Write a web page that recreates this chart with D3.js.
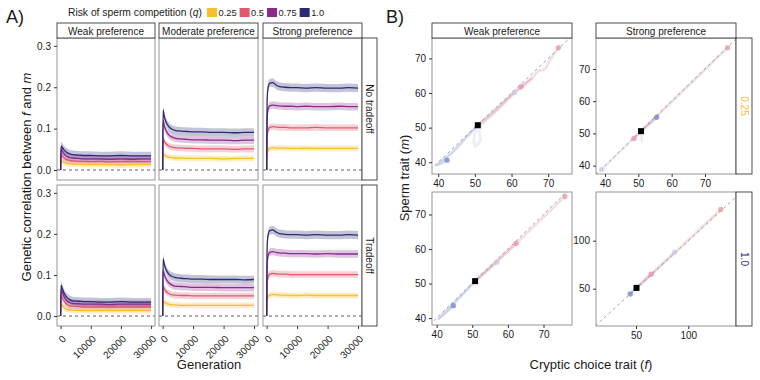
<!DOCTYPE html>
<html>
<head>
<meta charset="utf-8">
<script src="https://cdn.jsdelivr.net/npm/d3@7"></script>
<style>
  body { margin: 0; background: #fff; }
  svg { display: block; font-family: "Liberation Sans", Arial, Helvetica, sans-serif; }
</style>
</head>
<body>
<div id="chart"></div>
<script>
// ---------------------------------------------------------------------------
// Data
// ---------------------------------------------------------------------------

const qLevels     = ['0.25', '0.5', '0.75', '1.0'];
const preferences = ['Weak preference', 'Moderate preference', 'Strong preference'];
const tradeoffs   = ['No tradeoff', 'Tradeoff'];

const generations = [0, 150, 500, 1000, 2000, 3000, 4000, 6000, 8000, 10000, 13000, 16000, 20000, 24000, 27000, 30000];
const genTicks    = [0, 10000, 20000, 30000];
const corrTicks   = [0, 0.1, 0.2, 0.3];
const bandHalf    = [0.007, 0.008, 0.009, 0.010];   // ribbon half width per q

// genetic correlation, one row per q (0.25, 0.5, 0.75, 1.0)
const noTradeWeak = [
  [0, 0.025, 0.022, 0.019, 0.016, 0.015, 0.014, 0.014, 0.013, 0.013, 0.013, 0.013, 0.012, 0.013, 0.013, 0.013],
  [0, 0.040, 0.035, 0.030, 0.025, 0.023, 0.022, 0.021, 0.021, 0.020, 0.021, 0.020, 0.020, 0.021, 0.020, 0.020],
  [0, 0.052, 0.047, 0.040, 0.033, 0.030, 0.029, 0.028, 0.027, 0.027, 0.027, 0.026, 0.027, 0.026, 0.027, 0.027],
  [0, 0.058, 0.055, 0.050, 0.043, 0.039, 0.037, 0.036, 0.035, 0.035, 0.034, 0.034, 0.035, 0.034, 0.034, 0.034]
];
const noTradeModerate = [
  [0, 0.039, 0.037, 0.034, 0.031, 0.030, 0.029, 0.029, 0.028, 0.028, 0.028, 0.028, 0.027, 0.028, 0.028, 0.028],
  [0, 0.076, 0.070, 0.064, 0.058, 0.055, 0.054, 0.053, 0.052, 0.052, 0.051, 0.051, 0.051, 0.050, 0.051, 0.051],
  [0, 0.120, 0.108, 0.097, 0.085, 0.080, 0.077, 0.075, 0.074, 0.073, 0.073, 0.072, 0.072, 0.071, 0.072, 0.072],
  [0, 0.145, 0.130, 0.118, 0.105, 0.099, 0.096, 0.094, 0.093, 0.092, 0.092, 0.091, 0.091, 0.090, 0.091, 0.091]
];
const noTradeStrong = [
  [0, 0.040, 0.049, 0.052, 0.054, 0.053, 0.053, 0.053, 0.052, 0.052, 0.053, 0.052, 0.052, 0.052, 0.052, 0.052],
  [0, 0.080, 0.097, 0.103, 0.105, 0.104, 0.103, 0.103, 0.102, 0.102, 0.102, 0.103, 0.102, 0.102, 0.102, 0.102],
  [0, 0.125, 0.148, 0.155, 0.157, 0.156, 0.155, 0.154, 0.154, 0.153, 0.154, 0.153, 0.153, 0.154, 0.153, 0.153],
  [0, 0.170, 0.200, 0.210, 0.211, 0.206, 0.202, 0.200, 0.199, 0.199, 0.198, 0.199, 0.198, 0.198, 0.199, 0.198]
];
const tradeWeak = [
  [0, 0.030, 0.027, 0.022, 0.017, 0.015, 0.014, 0.014, 0.013, 0.013, 0.013, 0.013, 0.013, 0.013, 0.013, 0.013],
  [0, 0.050, 0.045, 0.038, 0.029, 0.025, 0.024, 0.023, 0.022, 0.022, 0.022, 0.022, 0.022, 0.022, 0.022, 0.022],
  [0, 0.065, 0.058, 0.049, 0.038, 0.033, 0.031, 0.030, 0.029, 0.029, 0.029, 0.028, 0.029, 0.029, 0.029, 0.029],
  [0, 0.075, 0.068, 0.058, 0.046, 0.040, 0.037, 0.036, 0.035, 0.035, 0.034, 0.034, 0.035, 0.034, 0.034, 0.034]
];
const tradeModerate = [
  [0, 0.036, 0.034, 0.031, 0.029, 0.027, 0.027, 0.026, 0.026, 0.026, 0.026, 0.026, 0.026, 0.026, 0.026, 0.026],
  [0, 0.073, 0.067, 0.061, 0.055, 0.052, 0.051, 0.050, 0.050, 0.049, 0.049, 0.049, 0.049, 0.049, 0.049, 0.049],
  [0, 0.112, 0.102, 0.092, 0.081, 0.076, 0.073, 0.072, 0.071, 0.070, 0.070, 0.070, 0.069, 0.069, 0.069, 0.069],
  [0, 0.140, 0.127, 0.115, 0.102, 0.097, 0.094, 0.092, 0.091, 0.090, 0.090, 0.089, 0.089, 0.089, 0.088, 0.089]
];
const tradeStrong = [
  [0, 0.040, 0.048, 0.051, 0.053, 0.052, 0.051, 0.051, 0.050, 0.050, 0.051, 0.050, 0.050, 0.050, 0.050, 0.050],
  [0, 0.080, 0.096, 0.102, 0.104, 0.103, 0.102, 0.102, 0.101, 0.101, 0.101, 0.101, 0.101, 0.101, 0.101, 0.101],
  [0, 0.125, 0.148, 0.155, 0.157, 0.155, 0.154, 0.153, 0.152, 0.152, 0.152, 0.151, 0.152, 0.151, 0.151, 0.151],
  [0, 0.170, 0.198, 0.208, 0.210, 0.205, 0.201, 0.199, 0.198, 0.198, 0.197, 0.198, 0.197, 0.197, 0.198, 0.197]
];

// Panel B: trajectories of (f, m), each starts at the black square
const bPrefs   = ['Weak preference', 'Strong preference'];
const bQLevels = ['0.25', '1.0'];
const startPoint   = [50.8, 50.7];
const startPointQ1 = [50.5, 50.8];

const trajWeakQ025 = [
  { run: 'low',  pts: [[50.8, 50.7], [47.4, 46.9], [44, 43], [39.6, 39.1], [42.4, 40.6]] },
  { run: 'pale', pts: [[50.8, 50.7], [49.8, 47], [50.1, 44.5], [51.5, 46.5], [51.2, 49.5], [53.5, 52.5], [57, 56], [60.8, 60.2]] },
  { run: 'mid',  pts: [[50.8, 50.7], [55, 54.2], [60.9, 60.4], [65.5, 64.2], [62.6, 61.8]] },
  { run: 'high', pts: [[50.8, 50.7], [58, 57.5], [65.5, 64.2], [67.5, 66.5], [69, 66.8], [70.5, 69.5], [72.8, 73.1]] }
];
const trajStrongQ025 = [
  { run: 'pale', pts: [[50.8, 50.7], [51.1, 47.5], [50.6, 50], [46, 45.8], [42, 41.8], [39, 38.8]] },
  { run: 'mid',  pts: [[50.8, 50.7], [48.7, 48.4]] },
  { run: 'low',  pts: [[50.8, 50.7], [55.5, 55]] },
  { run: 'high', pts: [[50.8, 50.7], [60, 59.8], [70, 69.8], [76.8, 76.6]] }
];
const trajWeakQ1 = [
  { run: 'low',  pts: [[50.8, 50.7], [46, 45.5], [40.5, 39.7], [44.7, 43.6]] },
  { run: 'pale', pts: [[50.8, 50.7], [56.9, 56.2]] },
  { run: 'mid',  pts: [[50.8, 50.7], [57, 56.5], [62.3, 61.6]] },
  { run: 'high', pts: [[50.8, 50.7], [62.3, 61.6], [70, 69.2], [76, 75.2]] }
];
const trajStrongQ1 = [
  { run: 'low',  pts: [[50.5, 50.8], [44.5, 44.5]] },
  { run: 'mid',  pts: [[50.5, 50.8], [64.5, 65]] },
  { run: 'pale', pts: [[50.5, 50.8], [87, 88]] },
  { run: 'high', pts: [[50.5, 50.8], [90, 90.5], [131, 132.5]] }
];

// ---------------------------------------------------------------------------
// Setup
// ---------------------------------------------------------------------------

const width = 760, height = 380;
const qColors   = ['#f4c02c', '#df5a6c', '#8b2a8d', '#2c2a72'];
const runColors = { low: '#6b80c4', mid: '#e58cb0', pale: '#c6cae6', high: '#d99a9c' };
const textCol = '#1a1a1a', tickCol = '#333', borderCol = '#8a8a8a', stripCol = '#222';

const svg = d3.select('#chart').append('svg')
  .attr('viewBox', [0, 0, width, height])
  .attr('width', width)
  .attr('height', height);

function strip(g, x0, y0, w, h, label, vertical, color) {
  g.append('rect').attr('x', x0).attr('y', y0).attr('width', w).attr('height', h)
    .attr('fill', '#fff').attr('stroke', stripCol).attr('stroke-width', 0.8);
  const t = g.append('text').attr('fill', color || textCol).attr('font-size', 10)
    .attr('text-anchor', 'middle').attr('dominant-baseline', 'central').text(label);
  if (vertical) t.attr('transform', `translate(${x0 + w / 2},${y0 + h / 2}) rotate(90)`);
  else t.attr('x', x0 + w / 2).attr('y', y0 + h / 2 + 0.5);
}

function styleAxis(a) {
  a.select('.domain').remove();
  a.selectAll('line').attr('stroke', tickCol);
  a.selectAll('text').attr('fill', textCol).attr('font-size', 10).attr('font-family', null);
}

// ---------------------------------------------------------------------------
// Panel A: genetic correlation through time
// ---------------------------------------------------------------------------

const gA = svg.append('g').attr('id', 'panel-a');
gA.append('text').attr('x', 6).attr('y', 23).attr('font-size', 18).attr('fill', textCol).text('A)');

// legend
const leg = gA.append('g').attr('id', 'legend');
const legTitle = leg.append('text').attr('x', 68).attr('y', 16).attr('font-size', 10.3).attr('fill', textCol);
legTitle.append('tspan').text('Risk of sperm competition (');
legTitle.append('tspan').attr('font-style', 'italic').text('q');
legTitle.append('tspan').text(')');
let legCursor = 207;
qLevels.forEach((q, i) => {
  leg.append('rect').attr('x', legCursor).attr('y', 8).attr('width', 10).attr('height', 9).attr('fill', qColors[i]);
  const t = leg.append('text').attr('x', legCursor + 11.5).attr('y', 16).attr('font-size', 9.3)
    .attr('fill', textCol).text(q);
  legCursor += 11.5 + t.node().getComputedTextLength() + 3;
});

const colsA = [[57, 155], [159, 258], [263, 362]];
const rowsA = [[38, 180], [185, 326]];
const dataA = [[noTradeWeak, noTradeModerate, noTradeStrong], [tradeWeak, tradeModerate, tradeStrong]];

rowsA.forEach(([y0, y1], r) => {
  colsA.forEach(([x0, x1], c) => {
    const g = gA.append('g');
    const x = d3.scaleLinear().domain([-1200, 31300]).range([x0, x1]);
    const y = d3.scaleLinear().domain([-0.0242, 0.319]).range([y1, y0]);

    g.append('rect').attr('x', x0).attr('y', y0).attr('width', x1 - x0).attr('height', y1 - y0).attr('fill', '#fff');

    g.append('line').attr('x1', x0).attr('x2', x1).attr('y1', y(0)).attr('y2', y(0))
      .attr('stroke', '#333').attr('stroke-width', 0.8).attr('stroke-dasharray', '3,3');

    const series = dataA[r][c];
    series.forEach((vals, i) => {
      const pts = generations.map((gen, k) => ({ gen, v: vals[k] }));
      g.append('path').datum(pts)
        .attr('d', d3.area().curve(d3.curveMonotoneX)
          .x(d => x(d.gen))
          .y0(d => y(d.v === 0 ? 0 : d.v - bandHalf[i]))
          .y1(d => y(d.v === 0 ? 0 : d.v + bandHalf[i])))
        .attr('fill', qColors[i]).attr('fill-opacity', 0.28);
    });
    series.forEach((vals, i) => {
      const pts = generations.map((gen, k) => ({ gen, v: vals[k] }));
      g.append('path').datum(pts)
        .attr('d', d3.line().curve(d3.curveMonotoneX).x(d => x(d.gen)).y(d => y(d.v)))
        .attr('fill', 'none').attr('stroke', qColors[i]).attr('stroke-width', 1.3);
    });

    g.append('rect').attr('x', x0).attr('y', y0).attr('width', x1 - x0).attr('height', y1 - y0)
      .attr('fill', 'none').attr('stroke', borderCol).attr('stroke-width', 0.9);

    if (c === 0) {
      const ax = g.append('g').attr('transform', `translate(${x0},0)`)
        .call(d3.axisLeft(y).tickValues(corrTicks).tickSize(3).tickFormat(d3.format('.1f')));
      styleAxis(ax);
    }
    if (r === 1) {
      const ax = g.append('g').attr('transform', `translate(0,${y1})`)
        .call(d3.axisBottom(x).tickValues(genTicks).tickSize(3).tickFormat(d3.format('d')));
      styleAxis(ax);
      ax.selectAll('text').attr('text-anchor', 'end').attr('dy', null).attr('y', null)
        .attr('dominant-baseline', 'central')
        .attr('transform', 'translate(3,11) rotate(-45)');
    }
    if (r === 0) strip(g, x0, 23, x1 - x0, y0 - 23, preferences[c], false);
    if (c === 2) strip(g, x1, y0, 15, y1 - y0, tradeoffs[r], true);
  });
});

const yTitleA = gA.append('text').attr('transform', 'translate(31,177) rotate(-90)')
  .attr('text-anchor', 'middle').attr('font-size', 13).attr('fill', textCol);
yTitleA.append('tspan').text('Genetic correlation between ');
yTitleA.append('tspan').attr('font-style', 'italic').text('f');
yTitleA.append('tspan').text(' and ');
yTitleA.append('tspan').attr('font-style', 'italic').text('m');

gA.append('text').attr('x', 209).attr('y', 369).attr('text-anchor', 'middle')
  .attr('font-size', 13).attr('fill', textCol).text('Generation');

// ---------------------------------------------------------------------------
// Panel B: cryptic choice vs sperm trait trajectories
// ---------------------------------------------------------------------------

const gB = svg.append('g').attr('id', 'panel-b');
gB.append('text').attr('x', 386).attr('y', 23).attr('font-size', 18).attr('fill', textCol).text('B)');

const panelsB = [
  { col: 0, row: 0, box: [432, 572, 38, 174],  xd: [38.3, 76.5], yd: [36.6, 75.9], xt: [40, 50, 60, 70], yt: [40, 50, 60, 70], tracks: trajWeakQ025,   start: startPoint },
  { col: 1, row: 0, box: [596, 736, 38, 174],  xd: [37.3, 79.3], yd: [37.4, 79.6], xt: [40, 50, 60, 70], yt: [40, 50, 60, 70], tracks: trajStrongQ025, start: startPoint },
  { col: 0, row: 1, box: [432, 572, 192, 325], xd: [38.7, 78.0], yd: [38.0, 76.5], xt: [40, 50, 60, 70], yt: [40, 50, 60, 70], tracks: trajWeakQ1,     start: startPoint },
  { col: 1, row: 1, box: [596, 736, 192, 326], xd: [11.8, 145.6], yd: [11.1, 150.7], xt: [50, 100], yt: [50, 100],           tracks: trajStrongQ1,   start: startPointQ1 }
];

panelsB.forEach(p => {
  const [x0, x1, y0, y1] = p.box;
  const g = gB.append('g');
  const x = d3.scaleLinear().domain(p.xd).range([x0, x1]);
  const y = d3.scaleLinear().domain(p.yd).range([y1, y0]);

  const clipId = `clip-b-${p.row}-${p.col}`;
  g.append('clipPath').attr('id', clipId).append('rect')
    .attr('x', x0).attr('y', y0).attr('width', x1 - x0).attr('height', y1 - y0);
  const inner = g.append('g').attr('clip-path', `url(#${clipId})`);

  const line = d3.line().curve(d3.curveCatmullRom).x(d => x(d[0])).y(d => y(d[1]));
  p.tracks.forEach(t => {
    inner.append('path').attr('d', line(t.pts)).attr('fill', 'none')
      .attr('stroke', runColors[t.run]).attr('stroke-opacity', 0.22).attr('stroke-width', 3.2)
      .attr('stroke-linecap', 'round').attr('stroke-linejoin', 'round');
    inner.append('path').attr('d', line(t.pts)).attr('fill', 'none')
      .attr('stroke', runColors[t.run]).attr('stroke-opacity', 0.4).attr('stroke-width', 0.6);
  });

  const lo = Math.min(p.xd[0], p.yd[0]), hi = Math.max(p.xd[1], p.yd[1]);
  inner.append('line')
    .attr('x1', x(lo)).attr('y1', y(lo)).attr('x2', x(hi)).attr('y2', y(hi))
    .attr('stroke', '#8c8c8c').attr('stroke-width', 0.8).attr('stroke-dasharray', '3,3');

  p.tracks.forEach(t => {
    const end = t.pts[t.pts.length - 1];
    inner.append('circle').attr('cx', x(end[0])).attr('cy', y(end[1])).attr('r', 2.7)
      .attr('fill', runColors[t.run]).attr('fill-opacity', 0.7);
  });
  inner.append('rect').attr('x', x(p.start[0]) - 3).attr('y', y(p.start[1]) - 3)
    .attr('width', 6).attr('height', 6).attr('fill', '#000');

  g.append('rect').attr('x', x0).attr('y', y0).attr('width', x1 - x0).attr('height', y1 - y0)
    .attr('fill', 'none').attr('stroke', borderCol).attr('stroke-width', 0.9);

  styleAxis(g.append('g').attr('transform', `translate(${x0},0)`)
    .call(d3.axisLeft(y).tickValues(p.yt).tickSize(3)));
  styleAxis(g.append('g').attr('transform', `translate(0,${y1})`)
    .call(d3.axisBottom(x).tickValues(p.xt).tickSize(3)));

  if (p.row === 0) strip(g, x0, 23, x1 - x0, y0 - 23, bPrefs[p.col], false);
  if (p.col === 1) strip(g, x1, y0, 16, y1 - y0, bQLevels[p.row], true, p.row === 0 ? qColors[0] : qColors[3]);
});

const yTitleB = gB.append('text').attr('transform', 'translate(409,178) rotate(-90)')
  .attr('text-anchor', 'middle').attr('font-size', 13).attr('fill', textCol);
yTitleB.append('tspan').text('Sperm trait (');
yTitleB.append('tspan').attr('font-style', 'italic').text('m');
yTitleB.append('tspan').text(')');

const xTitleB = gB.append('text').attr('x', 591).attr('y', 369).attr('text-anchor', 'middle')
  .attr('font-size', 13).attr('fill', textCol);
xTitleB.append('tspan').text('Cryptic choice trait (');
xTitleB.append('tspan').attr('font-style', 'italic').text('f');
xTitleB.append('tspan').text(')');
</script>
</body>
</html>
